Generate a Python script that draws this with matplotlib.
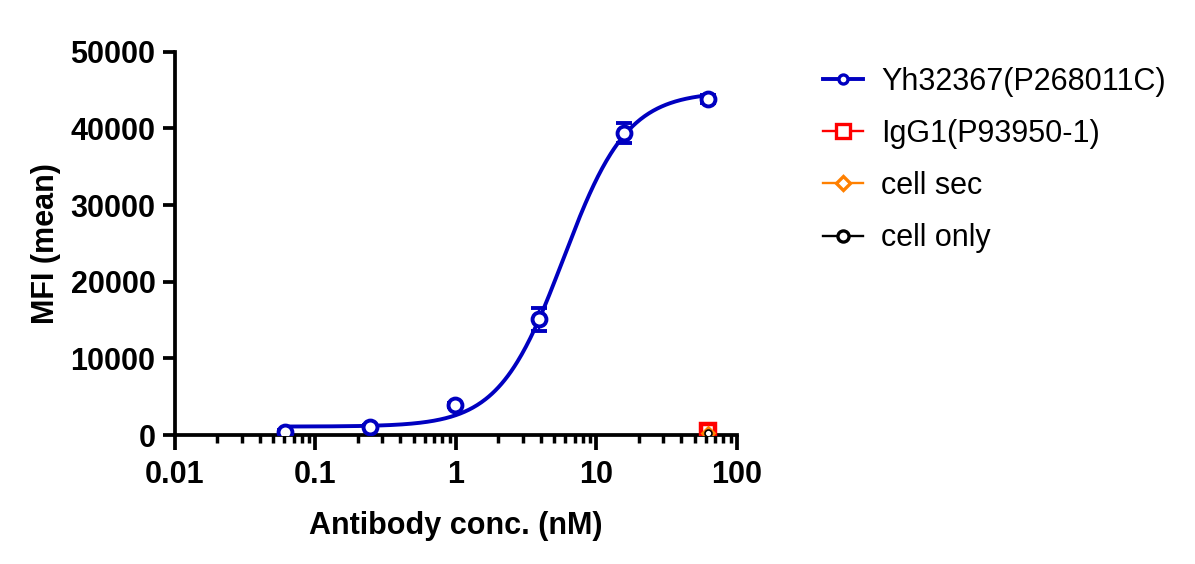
import numpy as np
import matplotlib
matplotlib.use("Agg")
import matplotlib.pyplot as plt
from matplotlib.lines import Line2D

plt.rcParams['font.family'] = ['Liberation Sans', 'DejaVu Sans']

# ---- data ----
conc = [0.0610, 0.244, 0.977, 3.906, 15.625, 62.5]
yh_mean = [450, 1100, 3900, 15100, 39400, 43800]
yh_err = [150, 250, 300, 1500, 1350, 500]

ctrl_conc = [62.5]
igg1_mean = [500]
cell_sec_mean = [300]
cell_only_mean = [200]

# 4PL fit parameters of the Yh32367 curve
fit_bottom = 1100
fit_top = 44800
fit_ec50 = 5.8
fit_hill = 1.9

labels = ["Yh32367(P268011C)", "IgG1(P93950-1)", "cell sec", "cell only"]
colors = ["#0000C0", "#FF0000", "#FF8000", "#000000"]

fig = plt.figure(figsize=(11.95, 5.64), dpi=100)
ax = fig.add_axes([0.1464, 0.2287, 0.4703, 0.6796])

# fitted curve
xf = np.logspace(np.log10(conc[0]), np.log10(conc[-1]), 400)
yf = fit_bottom + (fit_top - fit_bottom) / (1 + (fit_ec50 / xf) ** fit_hill)
ax.plot(xf, yf, color=colors[0], lw=2.8, zorder=3)

ax.errorbar(conc, yh_mean, yerr=yh_err, fmt='o', ms=10, mfc='white', mec=colors[0],
            mew=2.8, ecolor=colors[0], elinewidth=1.6, capsize=5.5, capthick=1.6, zorder=4)
ax.plot(ctrl_conc, igg1_mean, 's', ms=10.5, mfc='none', mec=colors[1], mew=3.2, zorder=5)
ax.plot(ctrl_conc, cell_sec_mean, 'D', ms=6, mfc='white', mec=colors[2], mew=2, zorder=6)
ax.plot(ctrl_conc, cell_only_mean, 'o', ms=5, mfc='none', mec=colors[3], mew=1.2, zorder=7)

ax.set_xscale('log')
ax.set_xlim(0.01, 100)
ax.set_ylim(0, 50000)
ax.set_yticks([0, 10000, 20000, 30000, 40000, 50000])
ax.set_xticks([0.01, 0.1, 1, 10, 100])
ax.set_xticklabels(["0.01", "0.1", "1", "10", "100"])
ax.xaxis.set_minor_locator(matplotlib.ticker.LogLocator(base=10, subs=np.arange(2, 10)))
ax.xaxis.set_minor_formatter(matplotlib.ticker.NullFormatter())

for s in ['top', 'right']:
    ax.spines[s].set_visible(False)
for s in ['left', 'bottom']:
    ax.spines[s].set_linewidth(2.7)

ax.tick_params(axis='y', which='major', width=2.7, length=9, labelsize=22, pad=5)
ax.tick_params(axis='x', which='major', width=2.7, length=11, labelsize=22, pad=7)
ax.tick_params(axis='x', which='minor', width=2.5, length=6)
for lab in ax.get_xticklabels() + ax.get_yticklabels():
    lab.set_fontweight('bold')

ax.set_xlabel("Antibody conc. (nM)", fontsize=22, fontweight='bold', labelpad=15)
ax.set_ylabel("MFI (mean)", fontsize=22, fontweight='bold', labelpad=7)

handles = [
    Line2D([], [], color=colors[0], lw=2.8, marker='o', ms=6.5, mfc='white', mec=colors[0], mew=2.4),
    Line2D([], [], color=colors[1], lw=1.7, marker='s', ms=9.5, mfc='white', mec=colors[1], mew=2.4),
    Line2D([], [], color=colors[2], lw=1.7, marker='D', ms=7.5, mfc='white', mec=colors[2], mew=2.4),
    Line2D([], [], color=colors[3], lw=1.7, marker='o', ms=8, mfc='white', mec=colors[3], mew=2.4),
]
fig.legend(handles, labels, loc='upper left', bbox_to_anchor=(0.689, 0.882),
           frameon=False, fontsize=22, handlelength=1.3, handletextpad=0.6,
           labelspacing=0.73, borderaxespad=0, borderpad=0)

fig.savefig("out.png", dpi=100)
